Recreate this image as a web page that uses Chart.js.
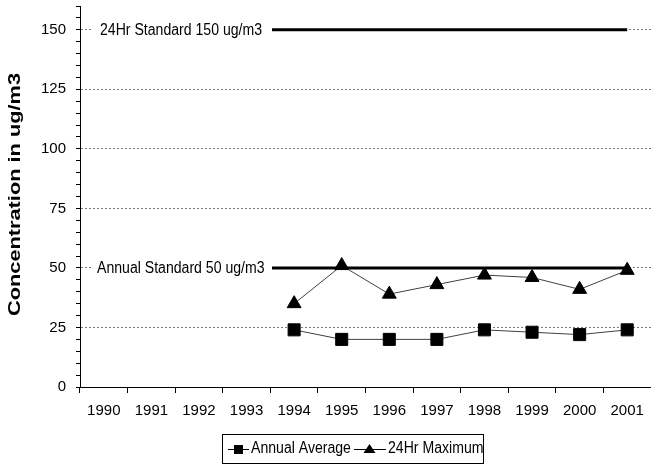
<!DOCTYPE html>
<html>
<head>
<meta charset="utf-8">
<script src="https://cdn.jsdelivr.net/npm/chart.js@4"></script>
<style>
html,body{margin:0;padding:0;background:#fff;}
#wrap{width:651px;height:466px;position:relative;}
</style>
</head>
<body>
<div id="wrap"><canvas id="c" width="651" height="466"></canvas></div>
<script>
const years = ['1990','1991','1992','1993','1994','1995','1996','1997','1998','1999','2000','2001'];
const annualAverage = [null,null,null,null,24,20,20,20,24,23,22,24];
const maximum24Hr = [null,null,null,null,35,51,39,43,47,46,41,49];
const standard24Hr = [150,150,150,150,150,150,150,150,150,150,150,150];
const standardAnnual = [50,50,50,50,50,50,50,50,50,50,50,50];
const standardLabels = ['24Hr Standard 150 ug/m3','Annual Standard 50 ug/m3'];
const standardValues = [150,50];
const seriesNames = ['Annual Average','24Hr Maximum'];
const yTitle = 'Concentration in ug/m3';

const FONT = "'Liberation Sans',Arial,sans-serif";
const SQ = 0.88; // horizontal squeeze to mimic the narrow face

function narrowText(ctx, text, x, y){
  ctx.save();
  ctx.translate(x, y);
  ctx.scale(SQ, 1);
  ctx.fillText(text, 0, 0);
  ctx.restore();
}

const overlay = {
  id:'overlay',
  afterDatasetsDraw(chart){
    const ctx = chart.ctx;
    const y = chart.scales.y;
    ctx.save();
    ctx.font = '16px ' + FONT;
    ctx.textBaseline = 'middle';
    standardLabels.forEach((t,i)=>{
      const py = y.getPixelForValue(standardValues[i]);
      ctx.fillStyle = '#fff';
      ctx.fillRect(92, py-9, 180, 18);
      ctx.fillStyle = '#000';
      narrowText(ctx, t, i===0?100:97, py+1);
    });
    ctx.restore();
  },
  afterDraw(chart){
    const ctx = chart.ctx;
    ctx.save();
    const ca = chart.chartArea;
    ctx.font = 'bold 16px ' + FONT;
    ctx.fillStyle = '#000';
    ctx.textAlign = 'center';
    ctx.textBaseline = 'middle';
    ctx.translate(16, (ca.top + ca.bottom)/2 - 2);
    ctx.rotate(-Math.PI/2);
    ctx.scale(1.36, 1);
    ctx.fillText(yTitle, 0, 0);
    ctx.restore();

    ctx.save();
    ctx.strokeStyle = '#000';
    ctx.lineWidth = 1;
    ctx.strokeRect(222.5, 434.5, 261, 29);
    const cy = 449;
    ctx.font = '16px ' + FONT;
    ctx.textBaseline = 'middle';
    ctx.fillStyle = '#000';
    ctx.beginPath(); ctx.moveTo(228, cy+0.5); ctx.lineTo(249, cy+0.5); ctx.stroke();
    ctx.fillRect(234, cy-4, 9, 9);
    narrowText(ctx, seriesNames[0], 251, cy);
    ctx.beginPath(); ctx.moveTo(354, cy+0.5); ctx.lineTo(386, cy+0.5); ctx.stroke();
    ctx.beginPath(); ctx.moveTo(369.5, cy-5); ctx.lineTo(375.5, cy+4); ctx.lineTo(363.5, cy+4); ctx.closePath(); ctx.fill();
    narrowText(ctx, seriesNames[1], 388, cy);
    ctx.restore();
  }
};

new Chart(document.getElementById('c'), {
  type:'line',
  data:{
    labels: years,
    datasets:[
      {label:'24Hr Standard', data: standard24Hr, borderColor:'#000', borderWidth:3, pointRadius:0, fill:false, order:3},
      {label:'Annual Standard', data: standardAnnual, borderColor:'#000', borderWidth:3, pointRadius:0, fill:false, order:3},
      {label: seriesNames[0], data: annualAverage, borderColor:'#404040', borderWidth:1, pointStyle:'rect', pointRadius:8.5, pointBackgroundColor:'#000', pointBorderColor:'#000', pointBorderWidth:1, fill:false, order:1},
      {label: seriesNames[1], data: maximum24Hr, borderColor:'#404040', borderWidth:1, pointStyle:'triangle', pointRadius:8, pointBackgroundColor:'#000', pointBorderColor:'#000', pointBorderWidth:1, fill:false, order:1}
    ]
  },
  options:{
    responsive:false,
    animation:false,
    layout:{autoPadding:false, padding:{top:6,right:0,bottom:44,left:0}},
    plugins:{legend:{display:false}, tooltip:{enabled:false}},
    elements:{line:{tension:0}},
    scales:{
      x:{
        offset:true,
        grid:{offset:true, drawOnChartArea:false, color:'#000', tickColor:'#000', tickLength:6},
        border:{color:'#000', width:1},
        ticks:{color:'#000', font:{family:FONT, size:15}, padding:9, maxRotation:0, autoSkip:false},
        afterFit(s){ s.height = 35; s.paddingLeft=0; s.paddingRight=0; }
      },
      y:{
        min:0, max:160,
        grid:{
          color:(c)=> (c.tick && c.tick.value%25===0 && c.tick.value>0 && c.tick.value<=150) ? '#7a7a7a' : 'rgba(0,0,0,0)',
          tickColor:'#000', tickLength:4, lineWidth:1
        },
        border:{color:'#000', width:1, dash:[2,2]},
        ticks:{stepSize:5, autoSkip:false, color:'#000', font:{family:FONT, size:15}, padding:10,
          callback:(v)=> v%25===0 && v<=150 ? String(v) : ''},
        afterFit(s){ s.width = 80; s.paddingTop=0; s.paddingBottom=0; }
      }
    }
  },
  plugins:[overlay]
});
</script>
</body>
</html>
